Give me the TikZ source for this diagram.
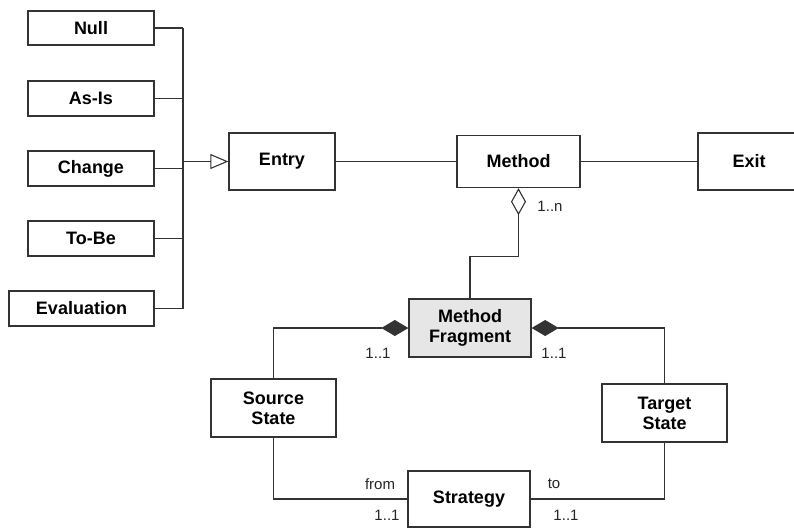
\documentclass[tikz,border=0pt]{standalone}
\usepackage{fontspec}
\setmainfont{Liberation Sans}
\usetikzlibrary{arrows.meta}
\definecolor{linegray}{HTML}{333333}
\definecolor{fraggray}{HTML}{E6E6E6}
\begin{document}
\begin{tikzpicture}[x=1pt,y=-1pt,
  box/.style={draw=linegray, line width=1.3pt, fill=white, align=center, inner sep=0pt,
    font=\bfseries\fontsize{18}{20}\selectfont},
  ln/.style={draw=linegray, line width=1.1pt},
  lbl/.style={font=\fontsize{15}{18}\selectfont, inner sep=0pt, text=black!85}]
\useasboundingbox (0,0) rectangle (794,528);
\clip (0,0) rectangle (794,528);

% entry kinds
\node[box, minimum width=126pt, minimum height=34pt] (null)   at (91,28)    {Null};
\node[box, minimum width=126pt, minimum height=35pt] (asis)   at (91,98.5)  {As-Is};
\node[box, minimum width=126pt, minimum height=35pt] (change) at (91,168.5) {Change};
\node[box, minimum width=126pt, minimum height=35pt] (tobe)   at (91,238.5) {To-Be};
\node[box, minimum width=145pt, minimum height=35pt] (eval)   at (81.5,308.5) {Evaluation};

% main chain
\node[box, minimum width=106pt, minimum height=57pt] (entry)  at (282,161.5) {Entry};
\node[box, minimum width=123pt, minimum height=52pt] (method) at (518.5,161.5) {Method};
\node[box, minimum width=102pt, minimum height=57pt] (exit)   at (749,161.5) {Exit};

% fragment structure
\node[box, fill=fraggray, minimum width=122pt, minimum height=58pt] (mf) at (470,328) {Method\\Fragment};
\node[box, minimum width=125pt, minimum height=58pt] (source) at (273.5,408) {Source\\State};
\node[box, minimum width=125pt, minimum height=58pt] (target) at (664.5,413) {Target\\State};
\node[box, minimum width=122pt, minimum height=56pt] (strategy) at (469,499) {Strategy};

% generalisation bus
\coordinate (bus) at (183,0);
\foreach \n in {null,asis,change,tobe,eval}
  \draw[ln] (\n.east) -- (\n.east -| bus);
\draw[ln] (bus |- null.east) -- (bus |- eval.east);
\draw[ln, -{Triangle[open, length=18pt, width=15pt]}] (bus |- entry.west) -- (entry.west);

% associations
\draw[ln] (entry) -- (method);
\draw[ln] (method) -- (exit);
\draw[ln, {Diamond[open, length=27pt, width=15pt]}-] (method.south) -- ++(0,68) -| (mf.north);
\draw[ln, {Diamond[length=27pt, width=16pt]}-] (mf.west) -| (source.north);
\draw[ln, {Diamond[length=27pt, width=16pt]}-] (mf.east) -| (target.north);
\draw[ln] (source.south) |- (strategy.west);
\draw[ln] (target.south) |- (strategy.east);

% multiplicities and roles
\node[lbl] (m1) at (550,206) {1..n};
\node[lbl] (m2) at (378,353) {1..1};
\node[lbl] (m3) at (554,353) {1..1};
\node[lbl] (r1) at (380,484) {from};
\node[lbl] (m4) at (387,515) {1..1};
\node[lbl] (r2) at (554,484) {to};
\node[lbl] (m5) at (566,515) {1..1};
\end{tikzpicture}
\end{document}
